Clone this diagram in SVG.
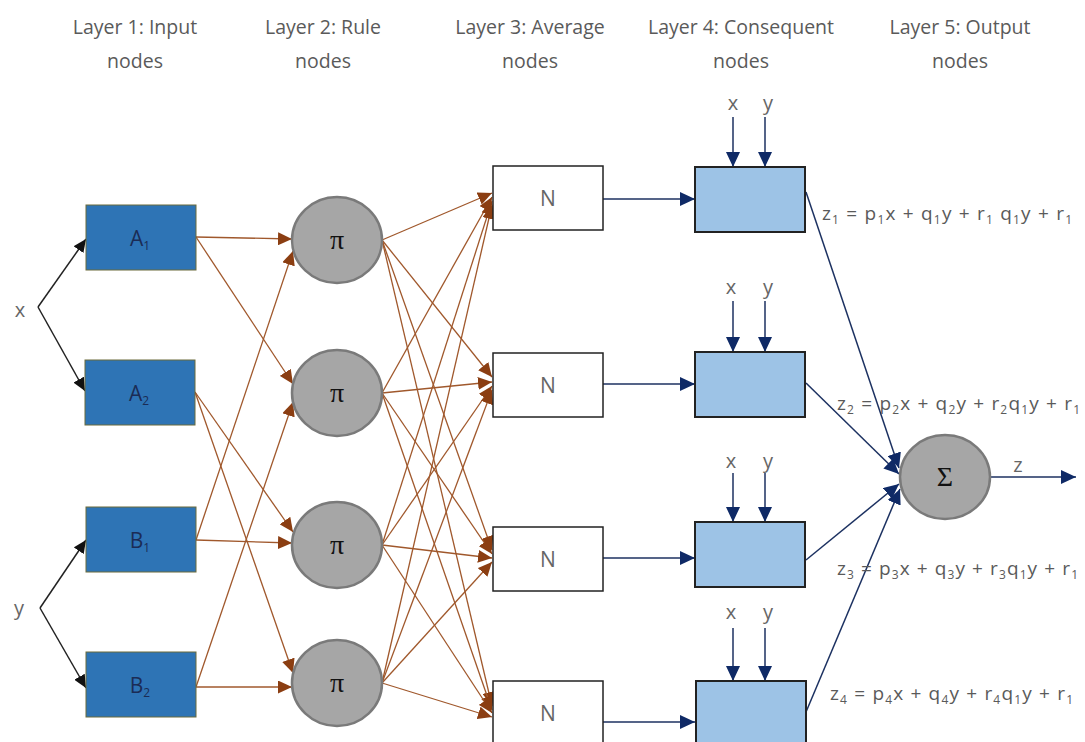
<svg xmlns="http://www.w3.org/2000/svg" width="1085" height="742" viewBox="0 0 1085 742">
<defs>
<style>
.hdr{font-family:"Open Sans","Liberation Sans",sans-serif;font-size:19.5px;fill:#5a5a5a;text-anchor:middle}
.lbl{font-family:"Open Sans","Liberation Sans",sans-serif;font-size:20px;fill:#666;text-anchor:middle}
.eq{font-family:"Open Sans","Liberation Sans",sans-serif;font-size:19px;fill:#5a5a5a}
.sub{font-size:12px}
.inp{fill:#2E74B5;stroke:#6b6a3a;stroke-width:1}
.inpt{font-family:"Open Sans","Liberation Sans",sans-serif;font-size:21px;fill:#1b2c55;text-anchor:middle}
.rule{fill:#A6A6A6;stroke:#7a7a7a;stroke-width:2.5}
.sym{font-family:"Liberation Serif","DejaVu Serif",serif;font-size:28px;fill:#111;text-anchor:middle}
.avg{fill:#fff;stroke:#222;stroke-width:1.5}
.avgt{font-family:"Open Sans","Liberation Sans",sans-serif;font-size:21px;fill:#666;text-anchor:middle}
.cons{fill:#9DC3E6;stroke:#222;stroke-width:2}
.bl{stroke:#222;stroke-width:1.5;fill:none;marker-end:url(#hBlack)}
.br{stroke:#A0582C;stroke-width:1.3;fill:none;marker-end:url(#hBrown)}
.nv{stroke:#1C3161;stroke-width:1.5;fill:none;marker-end:url(#hNavy)}
</style>
<marker id="hBlack" markerUnits="userSpaceOnUse" markerWidth="14" markerHeight="12" refX="13" refY="6" orient="auto"><path d="M0,0 L13,6 L0,12 z" fill="#111"/></marker>
<marker id="hBrown" markerUnits="userSpaceOnUse" markerWidth="15" markerHeight="13" refX="14" refY="6.5" orient="auto"><path d="M0,0 L14,6.5 L0,13 z" fill="#8B3E12"/></marker>
<marker id="hNavy" markerUnits="userSpaceOnUse" markerWidth="16" markerHeight="14" refX="15" refY="7" orient="auto"><path d="M0,0 L15,7 L0,14 z" fill="#0F2A66"/></marker>
</defs>
<rect width="1085" height="742" fill="#fff"/>

<g id="headers">
<text class="hdr" x="135" y="34">Layer 1: Input</text><text class="hdr" x="135" y="68">nodes</text>
<text class="hdr" x="323" y="34">Layer 2: Rule</text><text class="hdr" x="323" y="68">nodes</text>
<text class="hdr" x="530" y="34">Layer 3: Average</text><text class="hdr" x="530" y="68">nodes</text>
<text class="hdr" x="741" y="34">Layer 4: Consequent</text><text class="hdr" x="741" y="68">nodes</text>
<text class="hdr" x="960" y="34">Layer 5: Output</text><text class="hdr" x="960" y="68">nodes</text>
</g>

<g id="connectors">
<polyline class="bl" points="38,307 86,239" />
<polyline class="bl" points="38,307 85,391" />
<polyline class="bl" points="40,608 86,540" />
<polyline class="bl" points="40,608 86,688" />
<line class="br" x1="196" y1="237" x2="292" y2="239"/>
<line class="br" x1="196" y1="237" x2="293" y2="384"/>
<line class="br" x1="195" y1="392" x2="293" y2="532"/>
<line class="br" x1="195" y1="392" x2="293" y2="673"/>
<line class="br" x1="196" y1="540" x2="293" y2="251"/>
<line class="br" x1="196" y1="540" x2="292" y2="543"/>
<line class="br" x1="196" y1="687" x2="293" y2="402"/>
<line class="br" x1="196" y1="687" x2="292" y2="687"/>
<line class="br" x1="382" y1="240" x2="492" y2="193"/>
<line class="br" x1="382" y1="240" x2="492" y2="377"/>
<line class="br" x1="382" y1="240" x2="492" y2="550"/>
<line class="br" x1="382" y1="240" x2="492" y2="706"/>
<line class="br" x1="382" y1="393" x2="492" y2="197"/>
<line class="br" x1="382" y1="393" x2="492" y2="382"/>
<line class="br" x1="382" y1="393" x2="492" y2="554"/>
<line class="br" x1="382" y1="393" x2="492" y2="710"/>
<line class="br" x1="382" y1="545" x2="492" y2="201"/>
<line class="br" x1="382" y1="545" x2="492" y2="386"/>
<line class="br" x1="382" y1="545" x2="492" y2="558"/>
<line class="br" x1="382" y1="545" x2="492" y2="713"/>
<line class="br" x1="382" y1="683" x2="492" y2="205"/>
<line class="br" x1="382" y1="683" x2="492" y2="390"/>
<line class="br" x1="382" y1="683" x2="492" y2="562"/>
<line class="br" x1="382" y1="683" x2="492" y2="717"/>
<line class="nv" x1="603" y1="199" x2="695" y2="199"/>
<line class="nv" x1="603" y1="384" x2="695" y2="384"/>
<line class="nv" x1="603" y1="558" x2="695" y2="558"/>
<line class="nv" x1="603" y1="722" x2="695" y2="722"/>
<line class="nv" x1="733" y1="117" x2="733" y2="167"/>
<line class="nv" x1="765" y1="117" x2="765" y2="167"/>
<line class="nv" x1="733" y1="301" x2="733" y2="352"/>
<line class="nv" x1="765" y1="301" x2="765" y2="352"/>
<line class="nv" x1="733" y1="473" x2="733" y2="522"/>
<line class="nv" x1="765" y1="473" x2="765" y2="522"/>
<line class="nv" x1="733" y1="628" x2="733" y2="681"/>
<line class="nv" x1="765" y1="628" x2="765" y2="681"/>
<line class="nv" x1="806" y1="192" x2="899" y2="468"/>
<line class="nv" x1="806" y1="383" x2="899" y2="474"/>
<line class="nv" x1="806" y1="560" x2="899" y2="484"/>
<line class="nv" x1="806" y1="712" x2="900" y2="489"/>
<line class="nv" x1="990" y1="477" x2="1076" y2="477"/>
</g>

<g id="input-labels">
<text class="lbl" x="20" y="317">x</text>
<text class="lbl" x="19" y="615">y</text>
</g>

<g id="A1"><rect class="inp" x="86" y="205" width="110" height="65"/><text class="inpt" x="140" y="246">A<tspan class="sub" dy="4">1</tspan></text></g>
<g id="A2"><rect class="inp" x="85" y="360" width="110" height="65"/><text class="inpt" x="139" y="401">A<tspan class="sub" dy="4">2</tspan></text></g>
<g id="B1"><rect class="inp" x="86" y="507" width="110" height="65"/><text class="inpt" x="140" y="548">B<tspan class="sub" dy="4">1</tspan></text></g>
<g id="B2"><rect class="inp" x="86" y="652" width="110" height="65"/><text class="inpt" x="140" y="693">B<tspan class="sub" dy="4">2</tspan></text></g>

<g id="rule1"><ellipse class="rule" cx="337" cy="240" rx="45" ry="43"/><text class="sym" x="337" y="249">π</text></g>
<g id="rule2"><ellipse class="rule" cx="337" cy="393" rx="45" ry="43"/><text class="sym" x="337" y="402">π</text></g>
<g id="rule3"><ellipse class="rule" cx="337" cy="545" rx="45" ry="43"/><text class="sym" x="337" y="554">π</text></g>
<g id="rule4"><ellipse class="rule" cx="337" cy="683" rx="45" ry="43"/><text class="sym" x="337" y="692">π</text></g>

<g id="avg1"><rect class="avg" x="493" y="166" width="110" height="64"/><text class="avgt" x="548" y="206">N</text></g>
<g id="avg2"><rect class="avg" x="493" y="353" width="110" height="64"/><text class="avgt" x="548" y="393">N</text></g>
<g id="avg3"><rect class="avg" x="493" y="527" width="110" height="64"/><text class="avgt" x="548" y="567">N</text></g>
<g id="avg4"><rect class="avg" x="493" y="681" width="110" height="64"/><text class="avgt" x="548" y="721">N</text></g>

<g id="cons1"><rect class="cons" x="695" y="167" width="110" height="65"/><text class="lbl" x="733" y="110">x</text><text class="lbl" x="768" y="110">y</text></g>
<g id="cons2"><rect class="cons" x="695" y="352" width="110" height="65"/><text class="lbl" x="731" y="294">x</text><text class="lbl" x="768" y="294">y</text></g>
<g id="cons3"><rect class="cons" x="695" y="522" width="110" height="65"/><text class="lbl" x="731" y="468">x</text><text class="lbl" x="768" y="468">y</text></g>
<g id="cons4"><rect class="cons" x="696" y="681" width="110" height="65"/><text class="lbl" x="731" y="619">x</text><text class="lbl" x="768" y="619">y</text></g>

<g id="equations">
<text class="eq" x="822" y="220" textLength="250" lengthAdjust="spacing">z<tspan class="sub" dy="4">1</tspan><tspan dy="-4"> = p</tspan><tspan class="sub" dy="4">1</tspan><tspan dy="-4">x + q</tspan><tspan class="sub" dy="4">1</tspan><tspan dy="-4">y + r</tspan><tspan class="sub" dy="4">1</tspan><tspan dy="-4">  q</tspan><tspan class="sub" dy="4">1</tspan><tspan dy="-4">y + r</tspan><tspan class="sub" dy="4">1</tspan></text>
<text class="eq" x="837" y="410" textLength="243" lengthAdjust="spacing">z<tspan class="sub" dy="4">2</tspan><tspan dy="-4"> = p</tspan><tspan class="sub" dy="4">2</tspan><tspan dy="-4">x + q</tspan><tspan class="sub" dy="4">2</tspan><tspan dy="-4">y + r</tspan><tspan class="sub" dy="4">2</tspan><tspan dy="-4">q</tspan><tspan class="sub" dy="4">1</tspan><tspan dy="-4">y + r</tspan><tspan class="sub" dy="4">1</tspan></text>
<text class="eq" x="837" y="575" textLength="241" lengthAdjust="spacing">z<tspan class="sub" dy="4">3</tspan><tspan dy="-4"> = p</tspan><tspan class="sub" dy="4">3</tspan><tspan dy="-4">x + q</tspan><tspan class="sub" dy="4">3</tspan><tspan dy="-4">y + r</tspan><tspan class="sub" dy="4">3</tspan><tspan dy="-4">q</tspan><tspan class="sub" dy="4">1</tspan><tspan dy="-4">y + r</tspan><tspan class="sub" dy="4">1</tspan></text>
<text class="eq" x="830" y="700" textLength="243" lengthAdjust="spacing">z<tspan class="sub" dy="4">4</tspan><tspan dy="-4"> = p</tspan><tspan class="sub" dy="4">4</tspan><tspan dy="-4">x + q</tspan><tspan class="sub" dy="4">4</tspan><tspan dy="-4">y + r</tspan><tspan class="sub" dy="4">4</tspan><tspan dy="-4">q</tspan><tspan class="sub" dy="4">1</tspan><tspan dy="-4">y + r</tspan><tspan class="sub" dy="4">1</tspan></text>
</g>

<g id="output"><ellipse class="rule" cx="945" cy="477" rx="45" ry="42"/><text class="sym" x="945" y="486">Σ</text><text class="lbl" x="1018" y="472">z</text></g>
</svg>
